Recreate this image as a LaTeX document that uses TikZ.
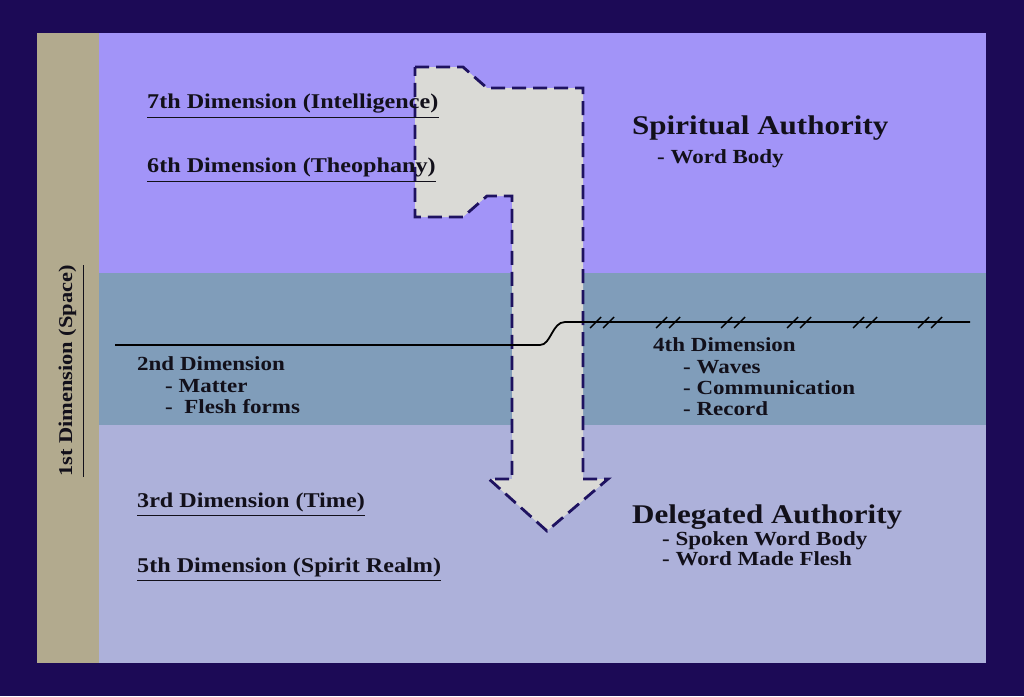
\documentclass[tikz,border=0pt]{standalone}
\usepackage{fontspec}
\setmainfont{Liberation Serif}[FakeStretch=1.15]
\usepackage{xcolor}

\definecolor{frame}{RGB}{28,10,86}
\definecolor{tanstrip}{RGB}{178,170,142}
\definecolor{spiritband}{RGB}{162,148,248}
\definecolor{matterband}{RGB}{128,157,186}
\definecolor{timeband}{RGB}{173,177,218}
\definecolor{arrowfill}{RGB}{218,218,214}
\definecolor{dashcol}{RGB}{30,18,96}
\definecolor{ink}{RGB}{18,16,26}

\begin{document}
\begin{tikzpicture}[x=1pt, y=-1pt,
  dimlabel/.style={anchor=base west, inner sep=0pt, text=ink, font=\bfseries\fontsize{21}{24}\selectfont},
  item/.style={dimlabel, font=\bfseries\fontsize{20}{23}\selectfont},
  title/.style={dimlabel, font=\bfseries\fontsize{27}{30}\selectfont},
  ul/.style={draw=ink, line width=1pt},
  arrowbody/.style={fill=arrowfill, draw=dashcol, line width=2.8pt, dash pattern=on 14pt off 7pt},
  wave/.style={draw=black, line width=1.8pt},
  hash/.style={draw=black, line width=1.4pt}]
\useasboundingbox (0,0) rectangle (1024,696);
% frame and bands
\fill[frame] (0,0) rectangle (1024,696);
\fill[spiritband] (99,33) rectangle (986,273);
\fill[matterband] (99,273) rectangle (986,425);
\fill[timeband] (99,425) rectangle (986,663);
\fill[tanstrip] (37,33) rectangle (99,663);
% the arrow
\draw[arrowbody] (415,67) -- (463,67) -- (487,88) -- (583,88) -- (583,479) -- (608,479)
  -- (547,531) -- (489,479) -- (512,479) -- (512,196) -- (487,196) -- (463,217) -- (415,217) -- cycle;
% the line
\coordinate (waveL) at (115,345);
\coordinate (waveR) at (970,322);
\draw[wave] (waveL) -- (540,345) .. controls (551,345) and (552,322) .. (565,322) -- (waveR);
\foreach \hx in {595,661,726,792,858,923}
  \draw[hash] (\hx-5,328) -- (\hx+6,317) (\hx+8,328) -- (\hx+19,317);
% labels
\node[dimlabel, rotate=90, anchor=base, font=\bfseries\fontsize{19.5}{22}\selectfont] (d1) at (72,371) {1st Dimension (Space)};
\draw[ul] ([xshift=11pt]d1.base west) -- ([xshift=11pt]d1.base east);
\node[dimlabel] (d7) at (147,108) {7th Dimension (Intelligence)};
\draw[ul] ([yshift=-9pt]d7.base west) -- ([yshift=-9pt]d7.base east);
\node[dimlabel] (d6) at (147,172) {6th Dimension (Theophany)};
\draw[ul] ([yshift=-9pt]d6.base west) -- ([yshift=-9pt]d6.base east);
\node[title] (spirit) at (632,134) {Spiritual Authority};
\node[item] (wordbody) at (657,163) {- Word Body};
\node[item] (d2) at (137,370) {2nd Dimension};
\node[item] (matter) at (165,392) {- Matter};
\node[item] (flesh) at (165,413) {-\ \ Flesh forms};
\node[item] (d4) at (653,351) {4th Dimension};
\node[item] (waves) at (683,373) {- Waves};
\node[item] (comm) at (683,394) {- Communication};
\node[item] (record) at (683,415) {- Record};
\node[dimlabel] (d3) at (137,507) {3rd Dimension (Time)};
\draw[ul] ([yshift=-8pt]d3.base west) -- ([yshift=-8pt]d3.base east);
\node[dimlabel] (d5) at (137,572) {5th Dimension (Spirit Realm)};
\draw[ul] ([yshift=-8pt]d5.base west) -- ([yshift=-8pt]d5.base east);
\node[title] (deleg) at (632,523) {Delegated Authority};
\node[item] (spoken) at (662,545) {- Spoken Word Body};
\node[item] (madeflesh) at (662,565) {- Word Made Flesh};
\end{tikzpicture}
\end{document}
